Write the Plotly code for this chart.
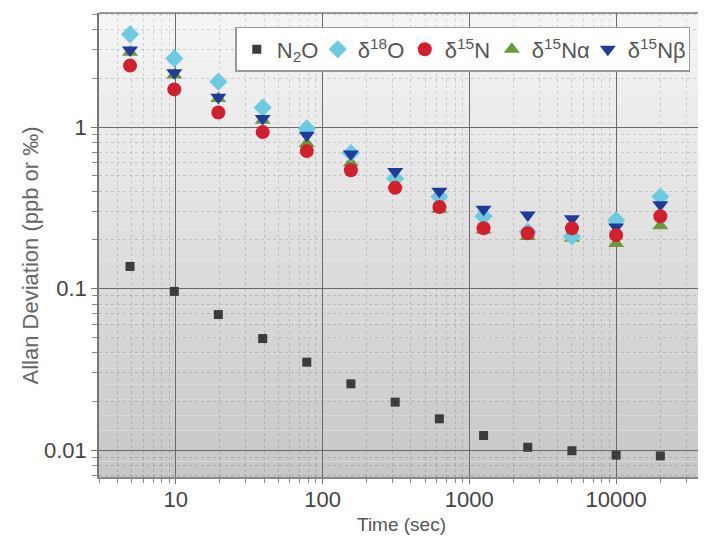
import plotly.graph_objects as go

# ---- data ----
time_sec = [4.88, 9.77, 19.5, 39.1, 78.1, 156, 312.5, 625, 1250, 2500, 5000, 10000, 20000]
n2o      = [0.137, 0.096, 0.069, 0.049, 0.035, 0.0257, 0.0198, 0.0156, 0.0123, 0.0104, 0.0099, 0.0093, 0.0092]
d18o     = [3.75, 2.66, 1.91, 1.32, 0.98, 0.69, 0.48, 0.37, 0.28, 0.225, 0.21, 0.265, 0.37]
d15n     = [2.4, 1.71, 1.23, 0.93, 0.71, 0.54, 0.42, 0.32, 0.236, 0.22, 0.236, 0.214, 0.28]
d15na    = [2.9, 2.1, 1.5, 1.1, 0.79, 0.60, 0.44, 0.31, 0.23, 0.21, 0.205, 0.19, 0.245]
d15nb    = [3.0, 2.17, 1.53, 1.13, 0.89, 0.68, 0.53, 0.40, 0.31, 0.285, 0.27, 0.24, 0.33]

series = [
    ("N<sub>2</sub>O", n2o, "square", "#3c3c3c", 9, 36),
    ("δ<sup>18</sup>O", d18o, "diamond", "#6ccbe0", 14, 42),
    ("δ<sup>15</sup>N", d15n, "circle", "#d21f2e", 14, 42),
    ("δ<sup>15</sup>Nα", d15na, "triangle-up", "#6a9a3c", 14, 51),
    ("δ<sup>15</sup>Nβ", d15nb, "triangle-down", "#1f3c9c", 14, 56),
]

fig = go.Figure()
order = [0, 3, 1, 4, 2]
for i in order:
    name, vals, sym, col, sz, lw = series[i]
    fig.add_trace(go.Scatter(
        x=time_sec, y=vals, mode="markers", name=name,
        marker=dict(symbol=sym, color=col, size=sz, line=dict(width=0)),
        legendrank=i, legendwidth=lw,
    ))

# gradient background bands
nb = 30
top = (245, 245, 245)
bot = (200, 200, 200)
shapes = []
for k in range(nb):
    t = k / (nb - 1)
    c = tuple(int(round(top[j] + (bot[j] - top[j]) * t)) for j in range(3))
    shapes.append(dict(type="rect", xref="x domain", yref="y domain",
                       x0=0, x1=1, y0=1 - (k + 1) / nb, y1=1 - k / nb,
                       fillcolor="rgb(%d,%d,%d)" % c, line=dict(width=0), layer="below"))
shapes.append(dict(type="line", xref="x domain", yref="y domain", x0=0, x1=1, y0=1, y1=1,
                   line=dict(color="#777", width=1.5)))

# page body has an 8px margin: size figure so the plot area lands where the reference has it
fig.update_layout(
    width=698, height=528,
    margin=dict(l=91, r=4, t=5, b=59, autoexpand=False),
    paper_bgcolor="white", plot_bgcolor="rgba(0,0,0,0)",
    font=dict(family="Liberation Sans, Arial, sans-serif", color="#444"),
    shapes=shapes,
    showlegend=True,
    legend=dict(orientation="h", x=0.226, y=0.970, xanchor="left", yanchor="top",
                bgcolor="white", bordercolor="#999", borderwidth=1.5,
                font=dict(size=22, color="#555"), itemwidth=30, traceorder="normal"),
    annotations=[
        dict(text="Time (sec)", xref="paper", yref="paper", x=0.502, y=-0.103,
             xanchor="center", yanchor="middle", showarrow=False,
             font=dict(size=19, color="#555")),
        dict(text="Allan Deviation (ppb or ‰)", xref="paper", yref="paper", x=-0.114, y=0.478,
             xanchor="center", yanchor="middle", showarrow=False, textangle=-90,
             font=dict(size=22, color="#666")),
    ],
)

fig.update_xaxes(
    type="log", range=[0.477, 4.585], automargin=False,
    tickmode="linear", tick0=0, dtick=1, tickformat="d",
    showgrid=True, gridcolor="#6a6a6a", gridwidth=1.3,
    ticks="outside", ticklen=5, tickcolor="#777", tickfont=dict(size=22, color="#444"),
    ticklabelstandoff=-3,
    showline=True, linecolor="#888", linewidth=2,
    minor=dict(dtick="D1", ticks="outside", ticklen=4, tickcolor="#888",
               showgrid=True, gridcolor="rgba(0,0,0,0.14)", griddash="dot", gridwidth=1),
    zeroline=False,
)
fig.update_yaxes(
    type="log", range=[-2.167, 0.706], automargin=False,
    tickmode="linear", tick0=0, dtick=1, tickformat="~g",
    showgrid=True, gridcolor="#6a6a6a", gridwidth=1.3,
    ticks="outside", ticklen=6, tickcolor="#777", tickfont=dict(size=22, color="#444"),
    showline=True, linecolor="#777", linewidth=1.5,
    minor=dict(dtick="D1", ticks="outside", ticklen=5, tickcolor="#888",
               showgrid=True, gridcolor="rgba(0,0,0,0.14)", griddash="dot", gridwidth=1),
    zeroline=False,
)

fig.write_html("out.html")
